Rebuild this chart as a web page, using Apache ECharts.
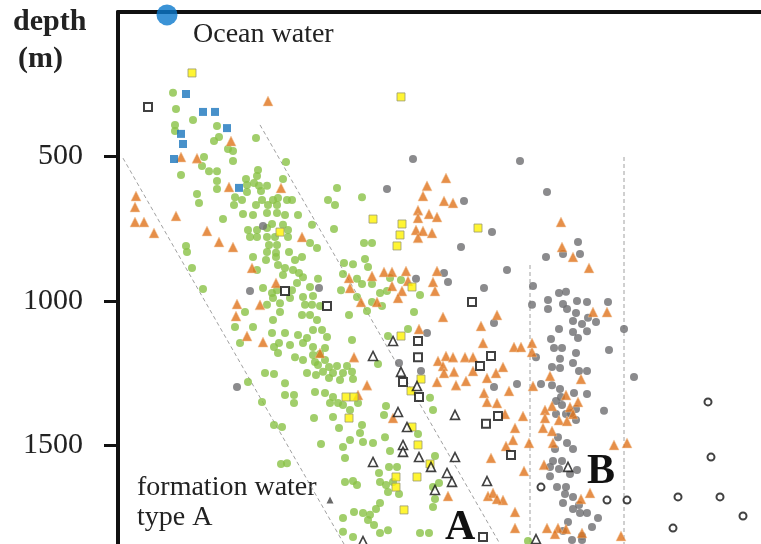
<!DOCTYPE html>
<html>
<head>
<meta charset="utf-8">
<style>
  html, body { margin: 0; padding: 0; background: #fff; }
  #depthChart { width: 761px; height: 544px; }
</style>
<script src="https://cdn.jsdelivr.net/npm/echarts/dist/echarts.min.js"></script>
</head>
<body>
<div id="depthChart"></div>
<script>
// x: position across the figure (arbitrary units), y: depth in m
var depthTicks = [500, 1000, 1500];

var oceanWater = [[49, 10]];

var greenPts = [
  [55,280],[58,336],[75,374],[57,391],[57,412],[99,395],[101,433],[96,447],[138,436],[110,474],[115,481],[86,502],[115,516],[168,519],[84,533],[91,551],[99,551],[140,547],[63,564],[99,585],[139,568],[128,578],[136,592],[165,578],[129,599],[141,602],[149,602],[99,613],[79,630],[129,623],[143,620],
  [81,661],[105,717],[117,641],[116,668],[125,699],[135,703],[138,668],[144,651],[150,668],[159,668],[155,651],[149,696],[159,696],[167,703],[180,703],[174,651],[169,651],[210,651],[124,651],[160,644],[130,755],[139,755],[139,779],[132,779],[149,748],[154,734],[165,737],[170,755],[149,779],[157,779],[151,807],[159,807],[170,779],[194,737],[192,800],[199,817],[149,831],[158,834],[171,831],[135,848],[148,859],[158,848],[177,859],[184,848],[160,876],[167,886],[175,893],[181,904],[185,918],[200,924],[165,911],[139,893],[68,810],[69,831],[74,886],[85,959],[145,956],[154,973],[159,963],[174,963],[179,938],[192,952],[155,990],[149,1014],[162,1008],[172,990],[185,987],[195,983],[187,1014],[194,1014],[202,1018],[184,1049],[192,1049],[199,1066],[162,1039],[155,1066],[127,1039],[135,1091],[117,1091],[154,1111],[167,1111],[180,1118],[189,1129],[195,1101],[204,1101],[209,1125],
  [219,609],[217,668],[244,641],[216,751],[246,800],[254,800],[226,869],[235,873],[247,855],[250,883],[225,907],[239,924],[244,942],[254,942],[223,963],[272,921],[283,928],[262,973],[269,966],[254,1004],[264,1018],[239,987],[249,1035],[231,1049],[302,980],[296,1039],[290,1098],[270,1122],[234,1136],
  [122,1146],[156,1160],[160,1181],[177,1195],[147,1250],[156,1253],[130,1281],[167,1285],[167,1326],[176,1326],[176,1354],[144,1350],[156,1430],[164,1437],[163,1565],[169,1562],[161,1146],[172,1153],
  [185,1146],[195,1160],[207,1163],[202,1184],[195,1188],[185,1205],[197,1212],[207,1205],[200,1222],[211,1229],[219,1226],[229,1226],[205,1246],[215,1250],[225,1250],[234,1246],[189,1250],[198,1257],[211,1267],[222,1274],[235,1271],[260,1219],[197,1316],[207,1319],[215,1333],[212,1354],[220,1354],[225,1361],[240,1354],[232,1378],[196,1406],[215,1402],[221,1440],[244,1430],[242,1458],[232,1482],[225,1506],[245,1489],[255,1492],[267,1472],[268,1364],[266,1395],[315,1378],[312,1336],[300,1461],[272,1520],[261,1596],[271,1575],[262,1627],[268,1638],[270,1662],[281,1669],[275,1627],[227,1544],[227,1627],[235,1624],[239,1638],[262,1700],[258,1721],[279,1575],[317,1537],[315,1645],[321,1631],[317,1686],[315,1714],[236,1731],[245,1735],[225,1752],[252,1741],[256,1776],[250,1759],[262,1804],[270,1794],[225,1800],[302,1804],[311,1804],[235,1818],[203,1496],[410,1832]
];

var orangePts = [
  [150,308],[113,447],[63,502],[79,506],[111,606],[163,609],[18,637],[17,675],[17,727],[26,727],[36,765],[58,706],[89,758],[101,796],[115,814],[184,779],[134,886],[158,938],[119,1011],[142,1014],[118,1053],[129,1122],[145,1143],
  [328,575],[309,602],[305,637],[326,654],[335,661],[300,686],[300,713],[311,699],[319,710],[298,755],[305,758],[314,765],[300,782],[231,921],[232,956],[254,914],[266,900],[274,900],[288,897],[274,949],[284,966],[290,931],[280,990],[243,1004],[259,1004],[319,897],[315,935],[317,966],[325,1056],[301,1098],[363,1087],[379,1049],
  [443,727],[444,814],[455,848],[471,886],[475,1039],[489,1039],[414,1146],
  [396,1160],[403,1160],[414,1177],[385,1229],[432,1260],[463,1271],[415,1295],[391,1312],[448,1326],[460,1350],[434,1364],[427,1378],[452,1368],[427,1406],[441,1413],[449,1416],[455,1392],[405,1399],[387,1392],[425,1440],[434,1451],[397,1440],[395,1482],[411,1492],[388,1503],[435,1492],[496,1499],[509,1492],[406,1589],[426,1568],[472,1665],[463,1686],[385,1690],[397,1731],[429,1787],[440,1787],[448,1790],[437,1807],[464,1804],[503,1814],[397,1787],
  [365,1146],[328,1191],[335,1195],[347,1195],[355,1195],[320,1208],[325,1226],[336,1246],[326,1250],[355,1243],[378,1250],[369,1267],[348,1278],[319,1281],[338,1292],[366,1319],[369,1350],[379,1354],[373,1544],[370,1676],[375,1665],[379,1686],[330,1676],[236,1195],[249,1292],[240,1326],[275,1406],[202,1181]
];

var grayPts = [
  [145,741],[132,966],[201,956],[295,509],[402,516],[269,613],[346,654],[374,762],[343,814],[389,893],[326,904],[330,935],[298,924],[366,956],[376,1077],[309,1111],
  [429,623],[460,796],[428,848],[445,838],[462,838],[415,949],[441,973],[448,969],[414,1014],[430,997],[430,1028],[445,1011],[449,1028],[459,1001],[469,1004],[490,1004],[458,1042],[455,1070],[464,1080],[470,1059],[478,1073],[455,1108],[469,1105],[441,1098],[460,1129],[433,1132],[506,1098],
  [418,1195],[436,1163],[444,1163],[491,1170],[458,1181],[442,1201],[455,1215],[434,1229],[442,1233],[461,1243],[469,1243],[516,1264],[423,1288],[434,1292],[442,1305],[456,1319],[469,1323],[399,1288],[443,1333],[438,1347],[444,1361],[458,1375],[453,1388],[486,1381],[438,1392],[448,1392],[458,1413],[440,1472],[449,1492],[437,1513],[455,1513],[435,1555],[444,1555],[432,1575],[441,1582],[459,1586],[432,1607],[452,1600],[439,1645],[448,1645],[447,1669],[455,1679],[445,1700],[461,1707],[455,1721],[462,1735],[469,1735],[480,1752],[450,1766],[474,1783],[445,1797],[464,1814],[454,1828],[464,1828],
  [281,1215],[303,1243],[376,1298],[119,1298]
];

var bluePts = [[68,284],[85,346],[97,346],[109,402],[63,422],[65,457],[56,509],[121,609]];

var yellowPts = [
  [74,211],[283,294],[162,762],[255,717],[284,734],[282,772],[279,810],[360,748],[294,952],[283,1122],[228,1333],[236,1333],[231,1406],[303,1271],[293,1312],[294,1437],[300,1499],[312,1565],[278,1610],[278,1645],[299,1610],[286,1724]
];

var openSquarePts = [
  [30,329],[167,966],[209,1018],[354,1004],[300,1139],[300,1195],[373,1191],[362,1226],[285,1281],[301,1333],[380,1399],[368,1426],[393,1534],[365,1818]
];

var openTrianglePts = [
  [255,1191],[283,1246],[299,1295],[280,1385],[337,1395],[289,1437],[285,1499],[285,1523],[301,1541],[337,1541],[255,1558],[313,1575],[329,1596],[334,1627],[317,1655],[369,1624],[245,1832],[418,1825],[275,1139],[450,1575]
];

var darkTrianglePts = [[212,1690]];

var openCirclePts = [[590,1350],[593,1541],[423,1645],[489,1690],[509,1690],[560,1679],[602,1679],[625,1745],[555,1787]];

// dashed guide lines (start, end)
var guideLines = [
  [[5,506],[226,1842]],
  [[142,391],[382,1842]],
  [[412,876],[412,1842]],
  [[506,502],[506,1842]]
];

var chart = echarts.init(document.getElementById('depthChart'));
var serif = '"Liberation Serif", "DejaVu Serif", serif';

function scatter(data, symbol, size, style, z) {
  return {
    type: 'scatter',
    data: data,
    symbol: symbol,
    symbolSize: size,
    itemStyle: style,
    z: z || 2,
    silent: true
  };
}

var series = [];
guideLines.forEach(function (seg) {
  series.push({
    type: 'line',
    data: seg,
    symbol: 'none',
    silent: true,
    z: 1,
    lineStyle: { color: '#a0a0a0', width: 1, type: [4, 3] }
  });
});
series.push(scatter(greenPts, 'circle', 8, { color: '#89c246' }));
series.push(scatter(grayPts, 'circle', 8, { color: '#6e6e70' }));
series.push(scatter(orangePts, 'triangle', 10, { color: '#e0731c', borderColor: '#f2c9a0', borderWidth: 0.6 }));
series.push(scatter(yellowPts, 'rect', 8, { color: '#fff200', borderColor: '#9a9a70', borderWidth: 1 }));
series.push(scatter(bluePts, 'rect', 8, { color: '#1a76bd' }));
series.push(scatter(openSquarePts, 'rect', 8, { color: '#fff', borderColor: '#111', borderWidth: 2 }));
series.push(scatter(openTrianglePts, 'triangle', 9, { color: '#fff', borderColor: '#111', borderWidth: 1.6 }));
series.push(scatter(darkTrianglePts, 'triangle', 7, { color: '#444' }));
series.push(scatter(openCirclePts, 'circle', 7, { color: '#fff', borderColor: '#111', borderWidth: 2 }));
series.push(scatter(oceanWater, 'circle', 21, { color: '#0a78cc' }, 5));

var options = {
  animation: false,
  backgroundColor: '#fff',
  grid: { left: 118, right: 0, top: 12, bottom: 0 },
  xAxis: {
    type: 'value',
    position: 'top',
    min: 0,
    max: 643,
    axisLine: { show: true, onZero: false, lineStyle: { color: '#111', width: 4 } },
    axisTick: { show: false },
    axisLabel: { show: false },
    splitLine: { show: false }
  },
  yAxis: {
    type: 'value',
    inverse: true,
    min: 0,
    max: 1842,
    interval: 500,
    axisLine: { show: true, onZero: false, lineStyle: { color: '#111', width: 4 } },
    axisTick: { show: true, length: 14, customValues: depthTicks, lineStyle: { color: '#111', width: 3 } },
    axisLabel: {
      show: true,
      customValues: depthTicks,
      margin: 35,
      color: '#222',
      fontSize: 30,
      fontFamily: serif,
      formatter: function (v) { return v === 0 ? '' : String(v); }
    },
    splitLine: { show: false }
  },
  graphic: [
    { type: 'text', x: 13, y: 22, style: { text: 'depth', font: 'bold 30px ' + serif, fill: '#222', textVerticalAlign: 'middle', verticalAlign: 'middle' } },
    { type: 'text', x: 18, y: 59, style: { text: '(m)', font: 'bold 30px ' + serif, fill: '#222', textVerticalAlign: 'middle', verticalAlign: 'middle' } },
    { type: 'text', x: 193, y: 35, style: { text: 'Ocean water', font: '28px ' + serif, fill: '#222', textVerticalAlign: 'middle', verticalAlign: 'middle' } },
    { type: 'text', x: 137, y: 488, style: { text: 'formation water', font: '28px ' + serif, fill: '#222', textVerticalAlign: 'middle', verticalAlign: 'middle' } },
    { type: 'text', x: 137, y: 518, style: { text: 'type A', font: '28px ' + serif, fill: '#222', textVerticalAlign: 'middle', verticalAlign: 'middle' } },
    { type: 'text', x: 445, y: 528, style: { text: 'A', font: 'bold 42px ' + serif, fill: '#111', textVerticalAlign: 'middle', verticalAlign: 'middle' } },
    { type: 'text', x: 587, y: 472, style: { text: 'B', font: 'bold 42px ' + serif, fill: '#111', textVerticalAlign: 'middle', verticalAlign: 'middle' } }
  ],
  series: series
};
chart.setOption(options, true);
window.addEventListener('resize', function () {
  chart.resize();
});
</script>
</body>
</html>
